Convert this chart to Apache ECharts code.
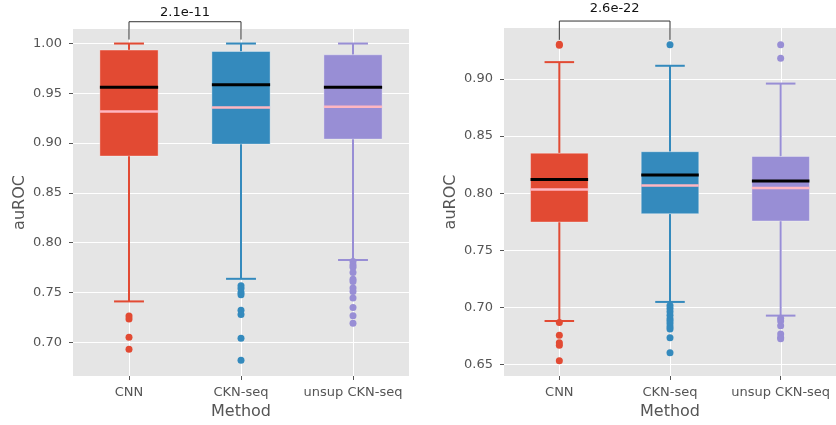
<!DOCTYPE html>
<html>
<head>
<meta charset="utf-8">
<script src="https://cdn.jsdelivr.net/npm/echarts@6/dist/echarts.min.js"></script>
<style>
html,body{margin:0;padding:0;background:#fff;}
#chart{width:836px;height:425px;}
</style>
</head>
<body>
<div id="chart"></div>
<script>
// ---- data ----
const categories = ['CNN', 'CKN-seq', 'unsup CKN-seq'];
const colors = ['#E24A33', '#348ABD', '#988ED5'];

// Left panel box statistics
const leftMin    = [0.741, 0.7637, 0.7826];
const leftQ1     = [0.887, 0.899, 0.904];
const leftMedian = [0.956, 0.9586, 0.956];
const leftQ3     = [0.9934, 0.992, 0.9887];
const leftMax    = [1.000, 1.000, 1.000];
const leftMean   = [0.9317, 0.9357, 0.9366];
const leftOutCNN   = [0.7263, 0.7233, 0.7049, 0.6930];
const leftOutCKN   = [0.7567, 0.7540, 0.7500, 0.7477, 0.7322, 0.7278, 0.7039, 0.6820];
const leftOutUnsup = [0.7810, 0.7776, 0.7753, 0.7700, 0.7633, 0.7610, 0.7544, 0.7510, 0.7444, 0.7348, 0.7265, 0.7191];

// Right panel box statistics
const rightMin    = [0.688, 0.7047, 0.6927];
const rightQ1     = [0.7747, 0.782, 0.7756];
const rightMedian = [0.812, 0.816, 0.8107];
const rightQ3     = [0.835, 0.8363, 0.8322];
const rightMax    = [0.9148, 0.9116, 0.896];
const rightMean   = [0.8032, 0.8067, 0.8046];
const rightOutCNN   = [0.9305, 0.9295, 0.6866, 0.6756, 0.6690, 0.6668, 0.6532];
const rightOutCKN   = [0.9300, 0.7015, 0.6990, 0.6960, 0.6930, 0.6900, 0.6880, 0.6855, 0.6830, 0.6810, 0.6733, 0.6602];
const rightOutUnsup = [0.9300, 0.9183, 0.6905, 0.6880, 0.6838, 0.6765, 0.6735, 0.6725];

// significance annotations: [fromIndex, toIndex, topY, legY, textY] and text
const leftAnnot  = [0, 1, 1.0219, 1.004, 1.0308];
const leftAnnotText = '2.1e-11';
const rightAnnot = [0, 1, 0.9508, 0.9343, 0.9619];
const rightAnnotText = '2.6e-22';

// tick labels
const leftTicks  = [0.70, 0.75, 0.80, 0.85, 0.90, 0.95, 1.00];
const rightTicks = [0.65, 0.70, 0.75, 0.80, 0.85, 0.90];

// axis extents
const leftYMin = 0.6661, leftYMax = 1.0146;
const rightYMin = 0.6398, rightYMax = 0.9447;

// ---- build ----
function boxData(mn, q1, md, q3, mx, mean) {
  return categories.map((c, i) => [i, mn[i], q1[i], md[i], q3[i], mx[i], mean[i]]);
}
function outData(lists) {
  const out = [];
  lists.forEach((l, i) => l.forEach(v => out.push([i, v])));
  return out;
}

function renderBox(params, api) {
  const i = api.value(0);
  const mn = api.value(1), q1 = api.value(2), md = api.value(3),
        q3 = api.value(4), mx = api.value(5), mean = api.value(6);
  const c = colors[i];
  const band = api.size([1, 0])[0];
  const bw = band * 0.52, cw = band * 0.267;
  const x = api.coord([i, md])[0];
  const y = v => api.coord([i, v])[1];
  const line = (x1, y1, x2, y2, stroke, w) => ({
    type: 'line', shape: {x1, y1, x2, y2},
    style: {stroke, lineWidth: w}
  });
  return {
    type: 'group',
    children: [
      line(x, y(q3), x, y(mx), c, 2),
      line(x, y(q1), x, y(mn), c, 2),
      line(x - cw / 2, y(mx), x + cw / 2, y(mx), c, 2),
      line(x - cw / 2, y(mn), x + cw / 2, y(mn), c, 2),
      {type: 'rect', shape: {x: x - bw / 2, y: y(q3), width: bw, height: y(q1) - y(q3)},
       style: {fill: c, stroke: 'rgba(255,255,255,0.35)', lineWidth: 1}},
      line(x - bw / 2, y(mean), x + bw / 2, y(mean), '#FFB6C1', 2.5),
      line(x - bw / 2, y(md), x + bw / 2, y(md), '#000000', 3)
    ]
  };
}

// vertical white grid lines at category centres
function renderVGrid(params, api) {
  const i = api.value(0);
  const cs = params.coordSys;
  const x = Math.round(api.coord([i, 0.8])[0]) + 0.5;
  return {type: 'line', shape: {x1: x, y1: cs.y, x2: x, y2: cs.y + cs.height},
          style: {stroke: '#fff', lineWidth: 1}};
}

function makeAnnotRenderer(text) {
  return function (params, api) {
    const a = api.value(0), b = api.value(1);
    const top = api.value(2), leg = api.value(3), ty = api.value(4);
    const p1 = api.coord([a, leg]), p2 = api.coord([a, top]);
    const p3 = api.coord([b, top]), p4 = api.coord([b, leg]);
    const pt = [(p2[0] + p3[0]) / 2, api.coord([a, ty])[1]];
    return {
      type: 'group',
      children: [
        {type: 'polyline', shape: {points: [p1, p2, p3, p4]},
         style: {stroke: '#333', lineWidth: 1, fill: null}},
        {type: 'text', style: {x: pt[0], y: pt[1], text: text,
          fill: '#111', font: '13px "DejaVu Sans"', align: 'center', verticalAlign: 'middle'}}
      ]
    };
  };
}

const font = '"DejaVu Sans", sans-serif';
function xAxisCfg(gridIndex) {
  return {
    type: 'category', gridIndex, data: categories,
    axisLine: {show: false},
    axisTick: {show: true, alignWithLabel: true, length: 4, lineStyle: {color: '#555'}},
    axisLabel: {color: '#555', fontSize: 13, fontFamily: font, margin: 10, interval: 0},
    splitLine: {show: false},
    name: 'Method', nameLocation: 'middle', nameGap: 28,
    nameTextStyle: {color: '#555', fontSize: 16, fontFamily: font}
  };
}
function yAxisCfg(gridIndex, min, max, ticks) {
  return {
    type: 'value', gridIndex, min, max, minInterval: 0.05, maxInterval: 0.05,
    axisLine: {show: false},
    axisTick: {show: true, length: 4, lineStyle: {color: '#555'}, customValues: ticks},
    axisLabel: {color: '#555', fontSize: 13, fontFamily: font, margin: 11, customValues: ticks,
      formatter: v => Math.abs(v / 0.05 - Math.round(v / 0.05)) < 1e-6 ? v.toFixed(2) : ''},
    splitLine: {show: true, lineStyle: {color: '#fff', width: 1}},
    name: 'auROC', nameLocation: 'middle', nameGap: 45,
    nameTextStyle: {color: '#555', fontSize: 16, fontFamily: font}
  };
}

const catIdx = categories.map((c, i) => [i]);

const option = {
  backgroundColor: '#fff',
  animation: false,
  grid: [
    {left: 73, top: 29, width: 336, height: 349.7, show: true, backgroundColor: '#E5E5E5', borderWidth: 0},
    {left: 504, top: 28, width: 338, height: 349.7, show: true, backgroundColor: '#E5E5E5', borderWidth: 0}
  ],
  xAxis: [xAxisCfg(0), xAxisCfg(1)],
  yAxis: [yAxisCfg(0, leftYMin, leftYMax, leftTicks), yAxisCfg(1, rightYMin, rightYMax, rightTicks)],
  series: [
    {type: 'custom', xAxisIndex: 0, yAxisIndex: 0, renderItem: renderVGrid, z: 1, silent: true,
     encode: {x: 0}, data: catIdx},
    {type: 'custom', xAxisIndex: 1, yAxisIndex: 1, renderItem: renderVGrid, z: 1, silent: true,
     encode: {x: 0}, data: catIdx},
    {type: 'custom', xAxisIndex: 0, yAxisIndex: 0, renderItem: renderBox, z: 2,
     encode: {x: 0, y: [1, 2, 3, 4, 5, 6]},
     data: boxData(leftMin, leftQ1, leftMedian, leftQ3, leftMax, leftMean)},
    {type: 'custom', xAxisIndex: 1, yAxisIndex: 1, renderItem: renderBox, z: 2,
     encode: {x: 0, y: [1, 2, 3, 4, 5, 6]},
     data: boxData(rightMin, rightQ1, rightMedian, rightQ3, rightMax, rightMean)},
    {type: 'scatter', xAxisIndex: 0, yAxisIndex: 0, symbolSize: 7, z: 3,
     itemStyle: {color: p => colors[p.value[0]], opacity: 1},
     data: outData([leftOutCNN, leftOutCKN, leftOutUnsup])},
    {type: 'scatter', xAxisIndex: 1, yAxisIndex: 1, symbolSize: 7, z: 3,
     itemStyle: {color: p => colors[p.value[0]], opacity: 1},
     data: outData([rightOutCNN, rightOutCKN, rightOutUnsup])},
    {type: 'custom', xAxisIndex: 0, yAxisIndex: 0, renderItem: makeAnnotRenderer(leftAnnotText),
     clip: false, z: 4, encode: {x: [0, 1], y: [2, 3, 4]}, data: [leftAnnot]},
    {type: 'custom', xAxisIndex: 1, yAxisIndex: 1, renderItem: makeAnnotRenderer(rightAnnotText),
     clip: false, z: 4, encode: {x: [0, 1], y: [2, 3, 4]}, data: [rightAnnot]}
  ]
};

const chart = echarts.init(document.getElementById('chart'), null, {renderer: 'canvas'});
chart.setOption(option);
</script>
</body>
</html>
